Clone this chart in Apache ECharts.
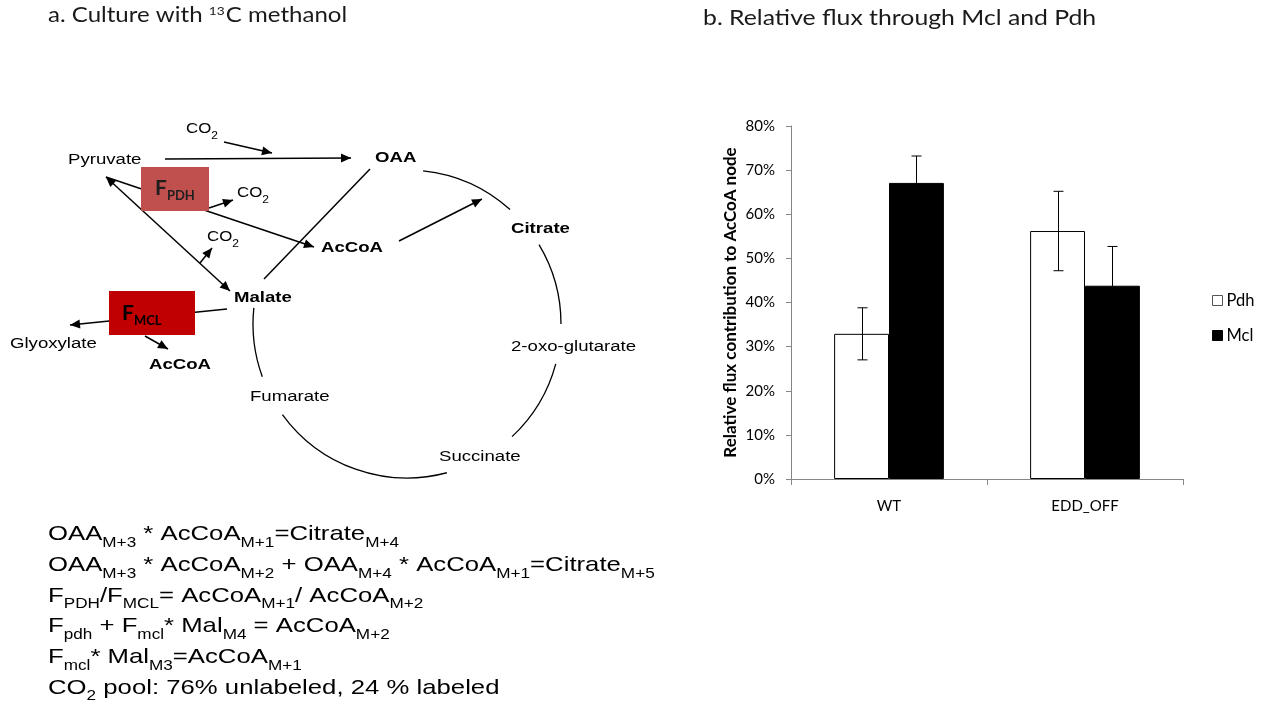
<!DOCTYPE html>
<html>
<head>
<meta charset="utf-8">
<script src="https://cdn.jsdelivr.net/npm/echarts@6/dist/echarts.min.js"></script>
<style>
  html, body { margin: 0; padding: 0; background: #fff; }
  #chart { width: 1267px; height: 706px; }
</style>
</head>
<body>
<div id="chart"></div>
<script>
// bar chart data (percent)
const groups = ['WT', 'EDD_OFF']
const pdhValues = [32.9, 56.2]
const mclValues = [67.1, 43.8]
const pdhErrors = [5.9, 9.0]
const mclErrors = [6.1, 8.9]

// equations, _{...} marks a subscript
const equations = [
  'OAA_{M+3} * AcCoA_{M+1}=Citrate_{M+4}',
  'OAA_{M+3} * AcCoA_{M+2} + OAA_{M+4} * AcCoA_{M+1}=Citrate_{M+5}',
  'F_{PDH}/F_{MCL}= AcCoA_{M+1}/ AcCoA_{M+2}',
  'F_{pdh} + F_{mcl}* Mal_{M4} = AcCoA_{M+2}',
  'F_{mcl}* Mal_{M3}=AcCoA_{M+1}',
  'CO_{2} pool: 76% unlabeled, 24 % labeled',
]

const CAT_GAP = 0.44
const SANS = '"Liberation Sans", Arial, sans-serif'
const LATO = 'Lato, sans-serif'
const STRETCH = 1.2

const toRich = (s) =>
  s.split(/_\{([^}]*)\}/).map((p, i) => (p ? `{${i % 2 ? 's' : 'm'}|${p}}` : '')).join('')

// ---- diagram helpers
const ln = (x1, y1, x2, y2, w = 1.5) => ({
  type: 'line', z: 1, shape: { x1, y1, x2, y2 }, style: { stroke: '#000', lineWidth: w },
})
const head = (x1, y1, x2, y2) => {
  const a = Math.atan2(y2 - y1, x2 - x1)
  const L = 10, W = 4.5
  const bx = x2 - L * Math.cos(a), by = y2 - L * Math.sin(a)
  return {
    type: 'polygon', z: 1,
    shape: { points: [[x2, y2], [bx + W * Math.sin(a), by - W * Math.cos(a)], [bx - W * Math.sin(a), by + W * Math.cos(a)]] },
    style: { fill: '#000' },
  }
}
const arrow = (x1, y1, x2, y2, both) => {
  const out = [ln(x1, y1, x2, y2), head(x1, y1, x2, y2)]
  if (both) out.push(head(x2, y2, x1, y1))
  return out
}
const deg = (d) => (d * Math.PI) / 180
const arc = (a0, a1) => ({
  type: 'arc', z: 1,
  shape: { cx: 407, cy: 324, r: 154, startAngle: deg(a0), endAngle: deg(a1), clockwise: true },
  style: { stroke: '#000', fill: null, lineWidth: 1.3 },
})
const label = (text, x, y, bold, size = 15.5) => ({
  type: 'text', z: 3, x, y, scaleX: STRETCH,
  style: {
    text, fill: '#000', font: `${bold ? 'bold ' : ''}${size}px ${SANS}`,
    textAlign: 'left', textVerticalAlign: 'middle',
  },
})
const co2 = (x, y) => ({
  type: 'text', z: 3, x, y, scaleX: STRETCH,
  style: {
    text: '{c|CO}{d|2}', textAlign: 'left', textVerticalAlign: 'middle',
    rich: {
      c: { fontFamily: SANS, fontSize: 14, lineHeight: 18, fill: '#000', verticalAlign: 'top' },
      d: { fontFamily: SANS, fontSize: 10, lineHeight: 10, padding: [9, 0, 0, 0], fill: '#000', verticalAlign: 'top' },
    },
  },
})
const enzyme = (x, y, sub, color) => ({
  type: 'text', z: 3, x, y,
  style: {
    text: `{F|F}{S|${sub}}`, textAlign: 'left', textVerticalAlign: 'middle',
    rich: {
      F: { fontFamily: LATO, fontWeight: 'bold', fontSize: 21, lineHeight: 24, fill: color, verticalAlign: 'top' },
      S: { fontFamily: LATO, fontWeight: 'bold', fontSize: 13, lineHeight: 14, padding: [11, 0, 0, 0], fill: color, verticalAlign: 'top' },
    },
  },
})

const diagram = [
  // titles
  {
    type: 'text', x: 48, y: 5, scaleX: 1.145,
    style: {
      text: '{t|a. Culture with }{u|13}{t|C methanol}', textAlign: 'left', textVerticalAlign: 'top',
      rich: {
        t: { fontFamily: LATO, fontSize: 21, lineHeight: 26, fill: '#1a1a1a', verticalAlign: 'top' },
        u: { fontFamily: LATO, fontSize: 12, lineHeight: 12, padding: [0, 1, 0, 0], fill: '#1a1a1a', verticalAlign: 'top' },
      },
    },
  },
  {
    type: 'text', x: 703, y: 5, scaleX: 1.18,
    style: {
      text: 'b. Relative flux through Mcl and Pdh', textAlign: 'left', textVerticalAlign: 'top',
      font: `21px ${LATO}`, lineHeight: 26, fill: '#1a1a1a',
    },
  },
  // TCA circle
  arc(-84, -48), arc(-31, 0), arc(15, 47), arc(75, 144), arc(160, 186),
  // reactions
  ...arrow(224, 142, 272, 153),
  ...arrow(165, 159, 351, 158),
  ...arrow(106, 177, 230, 291, true),
  ...arrow(106, 177, 314, 247),
  ...arrow(209, 208, 233, 200),
  ...arrow(200, 263, 212, 248),
  ln(370, 169, 264, 279),
  ...arrow(399, 241, 482, 199),
  ...arrow(227, 309, 70, 325),
  ...arrow(145, 336, 168, 349),
  // enzyme boxes
  { type: 'rect', z: 2, shape: { x: 141, y: 167, width: 68, height: 44 }, style: { fill: '#c0504d' } },
  { type: 'rect', z: 2, shape: { x: 109, y: 291, width: 86, height: 44 }, style: { fill: '#c00000' } },
  enzyme(155, 190, 'PDH', '#1f1f1f'),
  enzyme(122, 315, 'MCL', '#000'),
  // metabolites
  label('Pyruvate', 68, 160),
  label('OAA', 375, 158, true),
  label('Citrate', 511, 229, true),
  label('AcCoA', 321, 248, true),
  label('Malate', 234, 298, true),
  label('Glyoxylate', 10, 344),
  label('AcCoA', 149, 365, true),
  label('2-oxo-glutarate', 511, 347),
  label('Fumarate', 250, 397),
  label('Succinate', 439, 457),
  co2(186, 131), co2(237, 195), co2(207, 239),
  // equations
  ...equations.map((e, i) => ({
    type: 'text', z: 3, x: 48, y: 524 + i * 30.7, scaleX: 1.225,
    style: {
      text: toRich(e), textAlign: 'left', textVerticalAlign: 'top',
      rich: {
        m: { fontFamily: SANS, fontSize: 21, lineHeight: 26, fill: '#000', verticalAlign: 'top' },
        s: { fontFamily: SANS, fontSize: 14, lineHeight: 14, padding: [12, 0, 0, 0], fill: '#000', verticalAlign: 'top' },
      },
    },
  })),
]

const errorBars = (name, values, errors, side) => ({
  type: 'custom',
  name,
  z: 5,
  renderItem(params, api) {
    const i = api.value(0)
    const v = api.value(1)
    const e = api.value(2)
    const band = api.size([1, 0])[0]
    const barW = (band * (1 - CAT_GAP)) / 2
    const x = Math.round(api.coord([i, v])[0] + (side * barW) / 2) + 0.5
    const top = api.coord([i, v + e])[1]
    const bot = api.coord([i, v - e])[1]
    const cap = 5
    const st = { stroke: '#000', lineWidth: 1 }
    return {
      type: 'group',
      children: [
        { type: 'line', shape: { x1: x, y1: top, x2: x, y2: bot }, style: st },
        { type: 'line', shape: { x1: x - cap, y1: top, x2: x + cap, y2: top }, style: st },
        { type: 'line', shape: { x1: x - cap, y1: bot, x2: x + cap, y2: bot }, style: st },
      ],
    }
  },
  data: groups.map((g, i) => [i, values[i], errors[i]]),
})

const chart = echarts.init(document.getElementById('chart'))
chart.setOption({
  animation: false,
  backgroundColor: '#fff',
  textStyle: { fontFamily: LATO },
  graphic: { elements: diagram },
  grid: { left: 791, right: 84, top: 126, bottom: 227 },
  legend: {
    orient: 'vertical',
    left: 1207,
    top: 287,
    itemWidth: 10,
    itemHeight: 10,
    itemGap: 18,
    icon: 'rect',
    textStyle: { fontFamily: LATO, fontSize: 16.5, color: '#000', padding: [0, 0, 0, -1] },
    data: [
      { name: 'Pdh', itemStyle: { color: '#fff', borderColor: '#555', borderWidth: 1 } },
      { name: 'Mcl', itemStyle: { color: '#000', borderColor: '#000', borderWidth: 1 } },
    ],
  },
  xAxis: {
    type: 'category',
    data: groups,
    axisLine: { lineStyle: { color: '#868686' } },
    axisTick: { show: true, length: 6, lineStyle: { color: '#868686' } },
    axisLabel: { fontFamily: LATO, fontSize: 15, color: '#000', margin: 20 },
  },
  yAxis: {
    type: 'value',
    min: 0,
    max: 80,
    interval: 10,
    name: 'Relative flux contribution to AcCoA node',
    nameLocation: 'middle',
    nameGap: 52,
    nameRotate: 90,
    nameTextStyle: { fontFamily: LATO, fontWeight: 'bold', fontSize: 17, color: '#000' },
    axisLine: { show: true, lineStyle: { color: '#868686' } },
    axisTick: { show: true, length: 5, lineStyle: { color: '#868686' } },
    axisLabel: { fontFamily: LATO, fontSize: 15, color: '#000', margin: 16, formatter: '{value}%' },
    splitLine: { show: false },
  },
  series: [
    {
      name: 'Pdh',
      type: 'bar',
      barGap: '0%',
      barCategoryGap: CAT_GAP * 100 + '%',
      data: pdhValues,
      itemStyle: { color: '#fff', borderColor: '#000', borderWidth: 1 },
    },
    {
      name: 'Mcl',
      type: 'bar',
      data: mclValues,
      itemStyle: { color: '#000', borderColor: '#000', borderWidth: 1 },
    },
    errorBars('Pdh error', pdhValues, pdhErrors, -1),
    errorBars('Mcl error', mclValues, mclErrors, 1),
  ],
})
</script>
</body>
</html>
